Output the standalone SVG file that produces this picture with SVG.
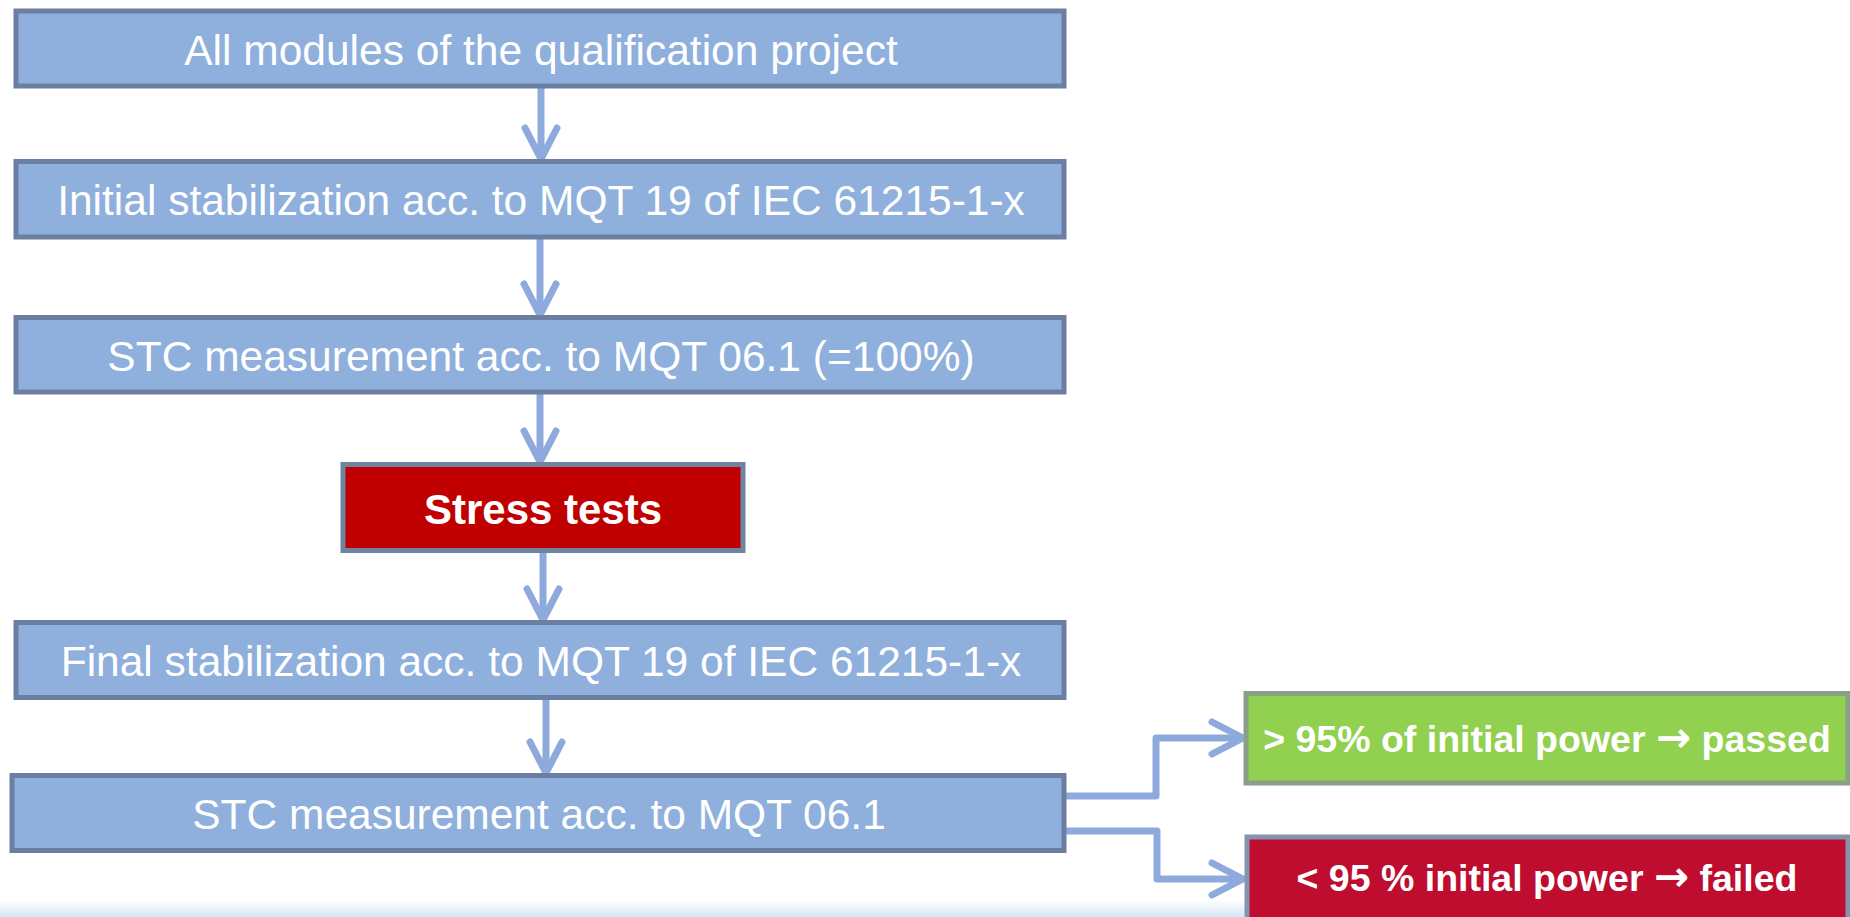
<svg xmlns="http://www.w3.org/2000/svg" width="1850" height="917" viewBox="0 0 1850 917">
  <defs>
    <linearGradient id="floor" x1="0" y1="0" x2="0" y2="1">
      <stop offset="0" stop-color="#ffffff"/>
      <stop offset="1" stop-color="#d6e6f4"/>
    </linearGradient>
    <marker id="chevron" viewBox="0 0 40 40" refX="36" refY="20" markerWidth="40" markerHeight="40" markerUnits="userSpaceOnUse" orient="auto">
      <path d="M5 4 L36 20 L5 36" fill="none" stroke="#8eaadc" stroke-width="7" stroke-linecap="round" stroke-linejoin="round"/>
    </marker>
  </defs>
  <style>
    .step { fill: #8fafdd; stroke: #6a7fa1; stroke-width: 5; }
    .step-text { font-family: "Liberation Sans", Arial, sans-serif; font-size: 42.5px; fill: #ffffff; text-anchor: middle; }
    .stress { fill: #c00000; stroke: #6f83a3; stroke-width: 5; }
    .bold-text { font-family: "Liberation Sans", Arial, sans-serif; font-weight: bold; fill: #ffffff; text-anchor: middle; }
    .arrow-glyph { font-family: "DejaVu Sans", sans-serif; font-weight: bold; font-size: 42px; }
    .pass { fill: #92d050; stroke: #8a9f88; stroke-width: 5; }
    .fail { fill: #be0d2e; stroke: #8494ac; stroke-width: 5; }
    .link { fill: none; stroke: #8eaadc; stroke-width: 7; stroke-linecap: round; stroke-linejoin: round; marker-end: url(#chevron); }
  </style>

  <rect width="1850" height="917" fill="#ffffff"/>
  <rect x="0" y="900" width="1850" height="17" fill="url(#floor)"/>

  <g id="connectors">
    <path class="link" d="M541 88 V159"/>
    <path class="link" d="M540 239 V315"/>
    <path class="link" d="M540 394 V462"/>
    <path class="link" d="M543 553 V620"/>
    <path class="link" d="M546 700 V773"/>
    <path class="link" d="M1067 796 H1156 V738 H1243"/>
    <path class="link" d="M1067 831 H1157 V879 H1243"/>
  </g>

  <g id="node-all-modules">
    <rect class="step" x="16" y="11" width="1048" height="75"/>
    <text class="step-text" x="541" y="65">All modules of the qualification project</text>
  </g>

  <g id="node-initial-stabilization">
    <rect class="step" x="16" y="161.5" width="1048" height="75.5"/>
    <text class="step-text" x="541" y="215">Initial stabilization acc. to MQT 19 of IEC 61215-1-x</text>
  </g>

  <g id="node-stc-initial">
    <rect class="step" x="16" y="317.5" width="1048" height="74.5"/>
    <text class="step-text" x="541" y="371">STC measurement acc. to MQT 06.1 (=100%)</text>
  </g>

  <g id="node-stress-tests">
    <rect class="stress" x="343" y="464.5" width="400" height="86"/>
    <text class="bold-text" x="543" y="524" font-size="42">Stress tests</text>
  </g>

  <g id="node-final-stabilization">
    <rect class="step" x="16" y="622.5" width="1048" height="75"/>
    <text class="step-text" x="541" y="676">Final stabilization acc. to MQT 19 of IEC 61215-1-x</text>
  </g>

  <g id="node-stc-final">
    <rect class="step" x="12" y="775.5" width="1052" height="75"/>
    <text class="step-text" x="539" y="829">STC measurement acc. to MQT 06.1</text>
  </g>

  <g id="node-passed">
    <rect class="pass" x="1246" y="693.5" width="602" height="89.5"/>
    <text class="bold-text" x="1547" y="752" font-size="37.5">&gt; 95% of initial power <tspan class="arrow-glyph">→</tspan> passed</text>
  </g>

  <g id="node-failed">
    <rect class="fail" x="1247" y="837" width="601" height="100"/>
    <text class="bold-text" x="1547" y="891" font-size="37.5">&lt; 95 % initial power <tspan class="arrow-glyph">→</tspan> failed</text>
  </g>
</svg>
